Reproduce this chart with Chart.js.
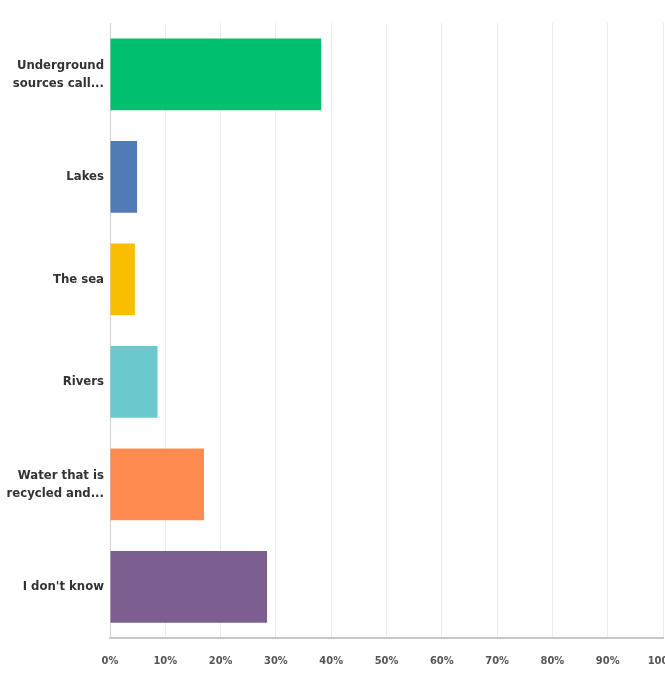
<!DOCTYPE html>
<html>
<head>
<meta charset="utf-8">
<script src="https://cdn.jsdelivr.net/npm/chart.js@4/dist/chart.umd.min.js"></script>
<style>
  html, body { margin: 0; padding: 0; background: #fff; }
  #wrap { width: 665px; height: 674px; }
</style>
</head>
<body>
<div id="wrap"><canvas id="c" width="665" height="674"></canvas></div>
<script>
const categories = [
  ['Underground', 'sources call...'],
  'Lakes',
  'The sea',
  'Rivers',
  ['Water that is', 'recycled and...'],
  "I don't know"
];
const values = [38.2, 4.9, 4.5, 8.6, 17.0, 28.4];
const barColors = ['#00BF6F', '#507CB6', '#F9BE00', '#6BC8CD', '#FF8B4F', '#7D5E90'];
const tickValues = [0, 10, 20, 30, 40, 50, 60, 70, 80, 90, 100];
const tickLabels = ['0%', '10%', '20%', '30%', '40%', '50%', '60%', '70%', '80%', '90%', '100%'];

new Chart(document.getElementById('c'), {
  type: 'bar',
  data: {
    labels: categories,
    datasets: [{
      data: values,
      backgroundColor: barColors,
      borderWidth: 0,
      categoryPercentage: 1.0,
      barPercentage: 0.7
    }]
  },
  options: {
    indexAxis: 'y',
    responsive: false,
    animation: false,
    layout: { padding: { top: 23, right: 2, left: 0, bottom: 0 } },
    plugins: { legend: { display: false }, tooltip: { enabled: false } },
    scales: {
      x: {
        min: 0,
        max: 100,
        afterBuildTicks: (s) => { s.ticks = tickValues.map(v => ({ value: v })); },
        ticks: {
          callback: (v) => tickLabels[tickValues.indexOf(v)],
          color: '#555',
          font: { family: "'Liberation Sans Narrow', 'DejaVu Sans Condensed', sans-serif", size: 11, weight: 'bold' },
          maxRotation: 0,
          autoSkip: false,
          padding: 17
        },
        grid: { color: '#ececec', lineWidth: 1, drawTicks: false },
        border: { color: '#c8c8c8', width: 2 },
        afterFit: (s) => { s.height = 36; s.paddingLeft = 0; s.paddingRight = 0; }
      },
      y: {
        ticks: {
          color: '#333',
          font: { family: "'Liberation Sans Narrow', 'DejaVu Sans Condensed', sans-serif", size: 13, weight: 'bold', lineHeight: 1.4 },
          padding: 6
        },
        grid: { display: false, drawTicks: false },
        border: { color: '#d0d0d0', width: 1 },
        afterFit: (s) => { s.width = 110; }
      }
    }
  }
});
</script>
</body>
</html>
